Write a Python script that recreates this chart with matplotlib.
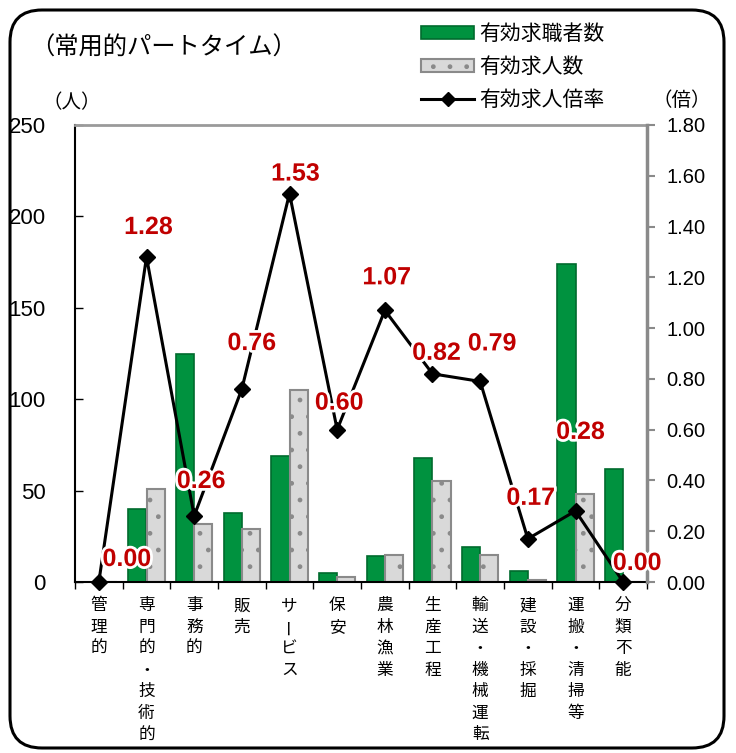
import numpy as np
from matplotlib import pyplot as plt
from matplotlib.patches import FancyBboxPatch, Patch
from matplotlib.lines import Line2D
from matplotlib.transforms import IdentityTransform
import matplotlib.patheffects as pe

plt.rcParams['font.family'] = ['Noto Sans CJK JP', 'DejaVu Sans']
plt.rcParams['hatch.linewidth'] = 1.0

categories = ['管理的', '専門的・技術的', '事務的', '販売', 'サービス', '保安',
              '農林漁業', '生産工程', '輸送・機械運転', '建設・採掘',
              '運搬・清掃等', '分類不能']
seekers = [0, 40, 125, 38, 69, 5, 14, 68, 19, 6, 174, 62]
openings = [0, 51, 32, 29, 105, 3, 15, 55, 15, 1, 48, 0]
ratio = [0.00, 1.28, 0.26, 0.76, 1.53, 0.60, 1.07, 0.82, 0.79, 0.17, 0.28, 0.00]
left_ticks = [0, 50, 100, 150, 200, 250]
right_ticks = [0.0, 0.2, 0.4, 0.6, 0.8, 1.0, 1.2, 1.4, 1.6, 1.8]

# offsets of the red value labels from their points, in pixels
label_offsets = [(28, 23), (2, 30), (7, 35), (10, 46), (6, 20), (2, 27),
                 (2, 33), (4, 21), (12, 38), (3, 41), (5, 79), (14, 19)]

W, H = 736, 753
fig = plt.figure(figsize=(W / 100, H / 100), dpi=100)
ax = fig.add_axes([75 / W, 1 - 582 / H, 572 / W, 457 / H])
ax2 = ax.twinx()

x = np.arange(len(categories))
green = '#00923f'
red = '#c00000'
num_font = 'Liberation Sans'

ax.bar(x - 0.19, seekers, width=0.38, color=green, edgecolor='#006b2d',
       linewidth=1.2, zorder=2)
ax.bar(x + 0.19, openings, width=0.38, color='#d9d9d9', edgecolor='#8a8a8a',
       linewidth=1.5, hatch='.', zorder=2)

ax.set_xlim(-0.5, len(categories) - 0.5)
ax.set_ylim(0, 250)
ax.set_yticks(left_ticks)
ax.set_yticklabels([str(t) for t in left_ticks], fontsize=16, family=num_font)
ax.tick_params(axis='y', direction='in', length=6, pad=21, width=1)
ax.set_xticks(np.arange(len(categories) + 1) - 0.5)
ax.set_xticklabels([])
ax.tick_params(axis='x', direction='out', length=5, width=1)

for side in ['top', 'right']:
    ax.spines[side].set_color('#9a9a9a')
ax.spines['top'].set_linewidth(2)
ax.spines['left'].set_linewidth(1.5)
ax.spines['bottom'].set_linewidth(1.5)

ax2.plot(x, ratio, color='black', linewidth=2.2, marker='D', markersize=8,
         zorder=3, clip_on=False)
ax2.set_ylim(0, 1.8)
ax2.set_yticks(right_ticks)
ax2.set_yticklabels([f'{t:.2f}' for t in right_ticks], fontsize=14.5,
                    family=num_font)
ax2.tick_params(axis='y', direction='out', length=6, pad=8, width=1.5,
                color='#8a8a8a')
ax2.spines['right'].set_color('#8a8a8a')
ax2.spines['right'].set_linewidth(2.5)
for side in ['top', 'left', 'bottom']:
    ax2.spines[side].set_visible(False)

for i, (r, (dx, dy)) in enumerate(zip(ratio, label_offsets)):
    ax2.annotate(f'{r:.2f}', xy=(i, r), xytext=(dx * 0.72, dy * 0.72),
                 textcoords='offset points', ha='center', va='center',
                 fontsize=18, fontweight='bold', family=num_font, color=red,
                 annotation_clip=False, zorder=5,
                 path_effects=[pe.withStroke(linewidth=4, foreground='white')])

# vertical category labels, one character per line
for i, name in enumerate(categories):
    for k, ch in enumerate(name):
        ax.annotate(ch, xy=(i, 0), xycoords=('data', 'axes fraction'),
                    xytext=(0, -11 - k * 15.5), textcoords='offset points',
                    ha='center', va='top', fontsize=12,
                    rotation=90 if ch == 'ー' else 0,
                    annotation_clip=False)

fig.text(30 / W, 1 - 48 / H, '（常用的パートタイム）', fontsize=17.5,
         va='center', ha='left')
fig.text(42 / W, 1 - 103 / H, '（人）', fontsize=14, va='center', ha='left')
fig.text(652 / W, 1 - 100 / H, '（倍）', fontsize=14, va='center', ha='left')

handles = [
    Patch(facecolor=green, edgecolor='#006b2d', linewidth=1.2),
    Patch(facecolor='#d9d9d9', edgecolor='#8a8a8a', linewidth=1.5, hatch='.'),
    Line2D([], [], color='black', linewidth=2.2, marker='D', markersize=7),
]
fig.legend(handles, ['有効求職者数', '有効求人数', '有効求人倍率'],
           loc='upper left', bbox_to_anchor=(421 / W, 1 - 23 / H),
           frameon=False, fontsize=15, handlelength=2.55, handleheight=0.55,
           handletextpad=0.25, labelspacing=0.53, borderpad=0,
           borderaxespad=0, numpoints=1)

frame = FancyBboxPatch((10, 5), 714, 738, boxstyle='round,pad=0,rounding_size=32',
                       transform=IdentityTransform(), fill=False,
                       edgecolor='black', linewidth=2.2)
fig.patches.append(frame)

fig.savefig('out.png', dpi=100)
